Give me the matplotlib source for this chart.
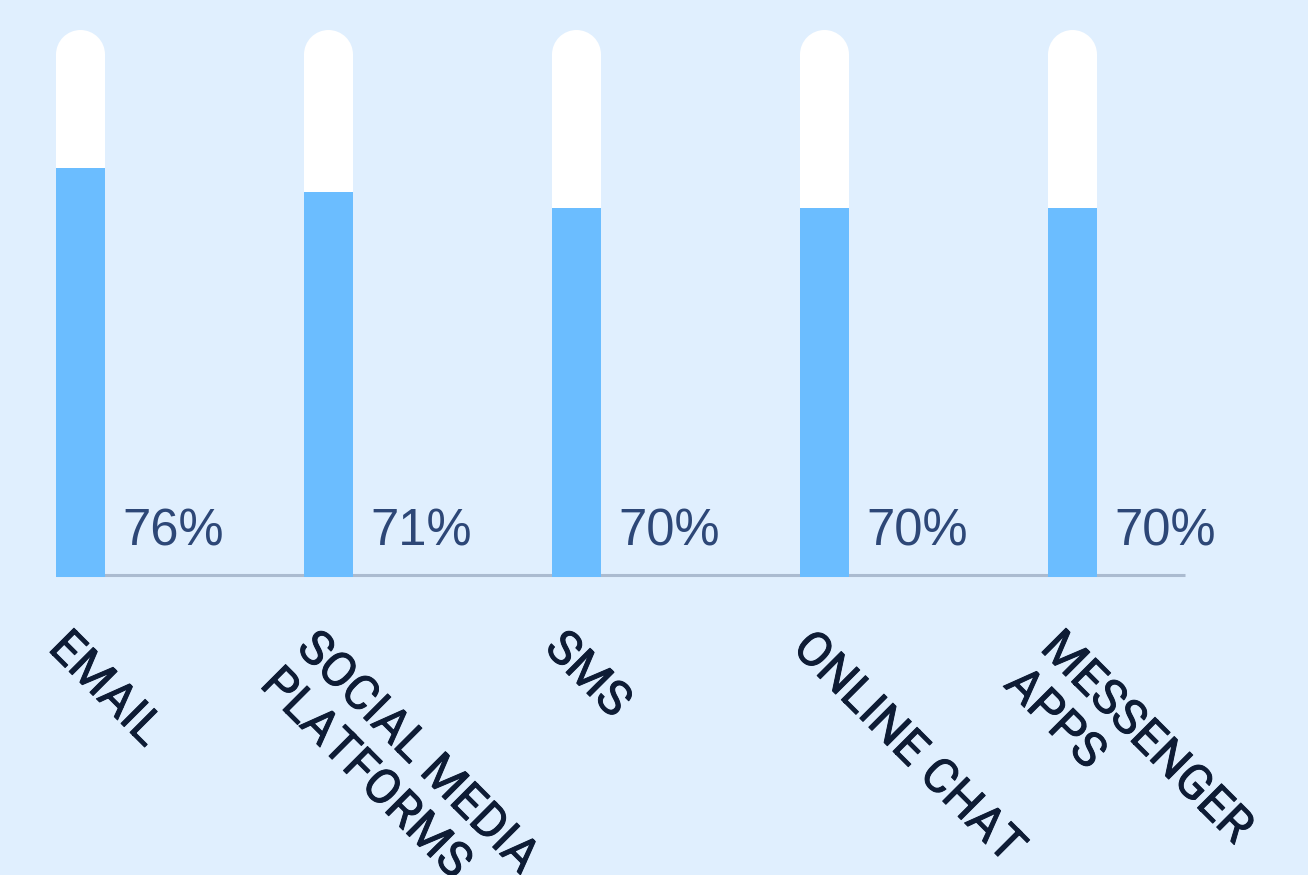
import matplotlib
matplotlib.use("Agg")
import matplotlib.pyplot as plt
from matplotlib.patches import Ellipse
import matplotlib.patheffects as pe
import numpy as np

# ---- data ----
categories = ["EMAIL", "SOCIAL MEDIA\nPLATFORMS", "SMS", "ONLINE CHAT", "MESSENGER\nAPPS"]
fill_values = [74.8, 70.4, 67.5, 67.5, 67.5]        # bar heights (track = 100)
value_labels = ["76%", "71%", "70%", "70%", "70%"]
track_max = 100

# ---- style ----
BG = "#e0effe"
TRACK = "#ffffff"
FILL = "#6bbdff"
BASE = "#abbbd0"
LABEL = "#0e1c35"
PCT = "#2d4777"

W, H = 1308, 875
fig = plt.figure(figsize=(W / 100, H / 100), dpi=100, facecolor=BG)
ax = fig.add_axes([0, 0, 1, 1])
ax.set_facecolor(BG)

# pixel geometry -> data limits
x0_px, step_px = 80.5, 248.0          # first bar centre, spacing
base_px, top_px = 577.0, 30.0         # y of 0 and of track top (from top of image)
k = (base_px - top_px) / track_max    # px per unit
ax.set_xlim((0 - x0_px) / step_px, (W - x0_px) / step_px)
ax.set_ylim(-(H - base_px) / k, base_px / k)
ax.axis("off")

x = np.arange(len(categories))
bar_w = 49 / step_px
r_v = (49 / 2) / k   # cap radius in value units

# baseline
ax.plot([x[0] - bar_w / 2, (1185 - x0_px) / step_px], [2.5 / k, 2.5 / k],
        color=BASE, lw=2.2, solid_capstyle="butt", zorder=1)

# tracks (rounded top)
ax.bar(x, [track_max - r_v] * len(x), width=bar_w, color=TRACK, zorder=2, linewidth=0)
for xi in x:
    ax.add_patch(Ellipse((xi, track_max - r_v), bar_w, 2 * r_v, color=TRACK,
                         linewidth=0, zorder=2))
# fills
ax.bar(x, fill_values, width=bar_w, color=FILL, zorder=3, linewidth=0)

# value labels
for xi, lab in zip(x, value_labels):
    ax.text(xi + 42 / step_px, (base_px - 545) / k, lab, ha="left", va="baseline",
            fontsize=36.5, color=PCT, family=["Liberation Sans", "DejaVu Sans"], zorder=4)

# category labels
for xi, cat in zip(x, categories):
    ax.text(xi - 8 / step_px, -(624 - base_px) / k, cat, rotation=-45,
            rotation_mode="anchor", ha="left", va="top", fontsize=34.5,
            color=LABEL, family=["Roboto", "DejaVu Sans"],
            linespacing=1.15, zorder=4,
            path_effects=[pe.withStroke(linewidth=0.7, foreground=LABEL)])

fig.savefig("out.png", dpi=100, facecolor=BG)
